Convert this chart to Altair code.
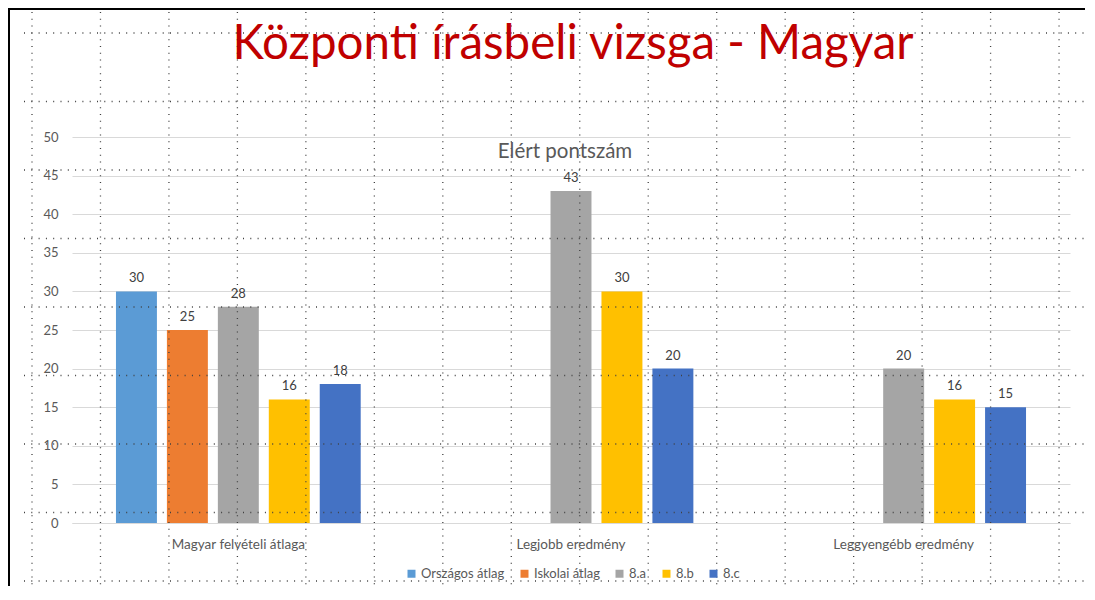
import altair as alt
import pandas as pd

# ---- data ----
categories = ["Magyar felvételi átlaga", "Legjobb eredmény", "Leggyengébb eredmény"]
series = ["Országos átlag", "Iskolai átlag", "8.a", "8.b", "8.c"]
colors = ["#5B9BD5", "#ED7D31", "#A5A5A5", "#FFC000", "#4472C4"]
orszagos = [30, None, None]
iskolai = [25, None, None]
osztaly_a = [28, 43, 20]
osztaly_b = [16, 30, 16]
osztaly_c = [18, 20, 15]
y_ticks = [0, 5, 10, 15, 20, 25, 30, 35, 40, 45, 50]
title_text = "Központi írásbeli vizsga - Magyar"
subtitle_text = "Elért pontszám"

rows = []
for s, vals in zip(series, [orszagos, iskolai, osztaly_a, osztaly_b, osztaly_c]):
    for c, v in zip(categories, vals):
        if v is not None:
            rows.append({"kat": c, "sor": s, "pont": v})
df = pd.DataFrame(rows)

FONT = "Lato"
W, H = 998, 386
PAD = {"left": 64, "top": 129, "right": 15, "bottom": 63}

x_enc = alt.X("kat:N", sort=categories,
              scale=alt.Scale(domain=categories, paddingInner=0, paddingOuter=0),
              axis=alt.Axis(title=None, labelAngle=0, labelFontSize=13.5, labelColor="#595959",
                            domainColor="#D9D9D9", ticks=False, labelPadding=14, grid=False))
x_enc_noaxis = alt.X("kat:N", sort=categories,
                     scale=alt.Scale(domain=categories, paddingInner=0, paddingOuter=0),
                     axis=None)
xo_enc = alt.XOffset("sor:N", sort=series,
                     scale=alt.Scale(domain=series, paddingInner=0.196, paddingOuter=0.863))
y_enc = alt.Y("pont:Q", scale=alt.Scale(domain=[0, 50], nice=False),
              axis=alt.Axis(values=y_ticks, title=None, domain=False, ticks=False,
                            gridColor="#D9D9D9", labelColor="#595959", labelFontSize=13,
                            labelPadding=14))
y_enc_noaxis = alt.Y("pont:Q", scale=alt.Scale(domain=[0, 50], nice=False), axis=None)

bars = alt.Chart(df).mark_bar().encode(
    x=x_enc, xOffset=xo_enc, y=y_enc,
    color=alt.Color("sor:N", sort=series, scale=alt.Scale(domain=series, range=colors),
                    legend=alt.Legend(title=None, orient="none", direction="horizontal",
                                      legendX=333, legendY=430, symbolType="square",
                                      symbolSize=64, symbolStrokeWidth=0, labelFontSize=13,
                                      labelColor="#595959", columnPadding=13, labelOffset=3))
)

labels = alt.Chart(df).mark_text(baseline="alphabetic", dy=-9, fontSize=13, color="#404040").encode(
    x=x_enc_noaxis, xOffset=xo_enc, y=y_enc_noaxis, text=alt.Text("pont:Q")
)

# decorative dotted page grid
vx = pd.DataFrame({"gx": [-40 + 68.47 * k for k in range(16)]})
hy = pd.DataFrame({"gy": [-104 + 68.5 * k for k in range(9)]})
vgrid = alt.Chart(vx).mark_rule(strokeDash=[1, 5.8], strokeWidth=1.3, color="#404040").encode(
    x=alt.X("gx:Q", scale=None, axis=None), y=alt.value(-125), y2=alt.value(H + PAD["bottom"])
)
hgrid = alt.Chart(hy).mark_rule(strokeDash=[1, 6.3], strokeWidth=1.3, color="#404040").encode(
    y=alt.Y("gy:Q", scale=None, axis=None), x=alt.value(-48), x2=alt.value(W + PAD["right"])
)

one = pd.DataFrame({"t": [title_text], "s": [subtitle_text]})
left_border = alt.Chart(one).mark_rule(color="black", strokeWidth=2).encode(
    x=alt.value(-63), y=alt.value(-PAD["top"]), y2=alt.value(H + PAD["bottom"])
)
top_border = alt.Chart(one).mark_rule(color="black", strokeWidth=2).encode(
    y=alt.value(-128), x=alt.value(-64), x2=alt.value(1018)
)
title = alt.Chart(one).mark_text(font=FONT, fontSize=47.5, color="#C00000", align="center",
                                 baseline="middle").encode(
    x=alt.value(501), y=alt.value(-92), text="t:N"
)
subtitle = alt.Chart(one).mark_text(font=FONT, fontSize=20.5, color="#595959", align="center",
                                    baseline="middle").encode(
    x=alt.value(493), y=alt.value(15), text="s:N"
)

chart = alt.layer(bars, labels, vgrid, hgrid, left_border, top_border, title, subtitle).resolve_scale(
    x="independent", y="independent"
).properties(
    width=W, height=H, padding=PAD, autosize=alt.AutoSizeParams(type="none"), background="white"
).configure(font=FONT).configure_view(stroke="transparent", strokeWidth=0)

chart.save("out.html", embed_options={"renderer": "svg", "actions": False})
